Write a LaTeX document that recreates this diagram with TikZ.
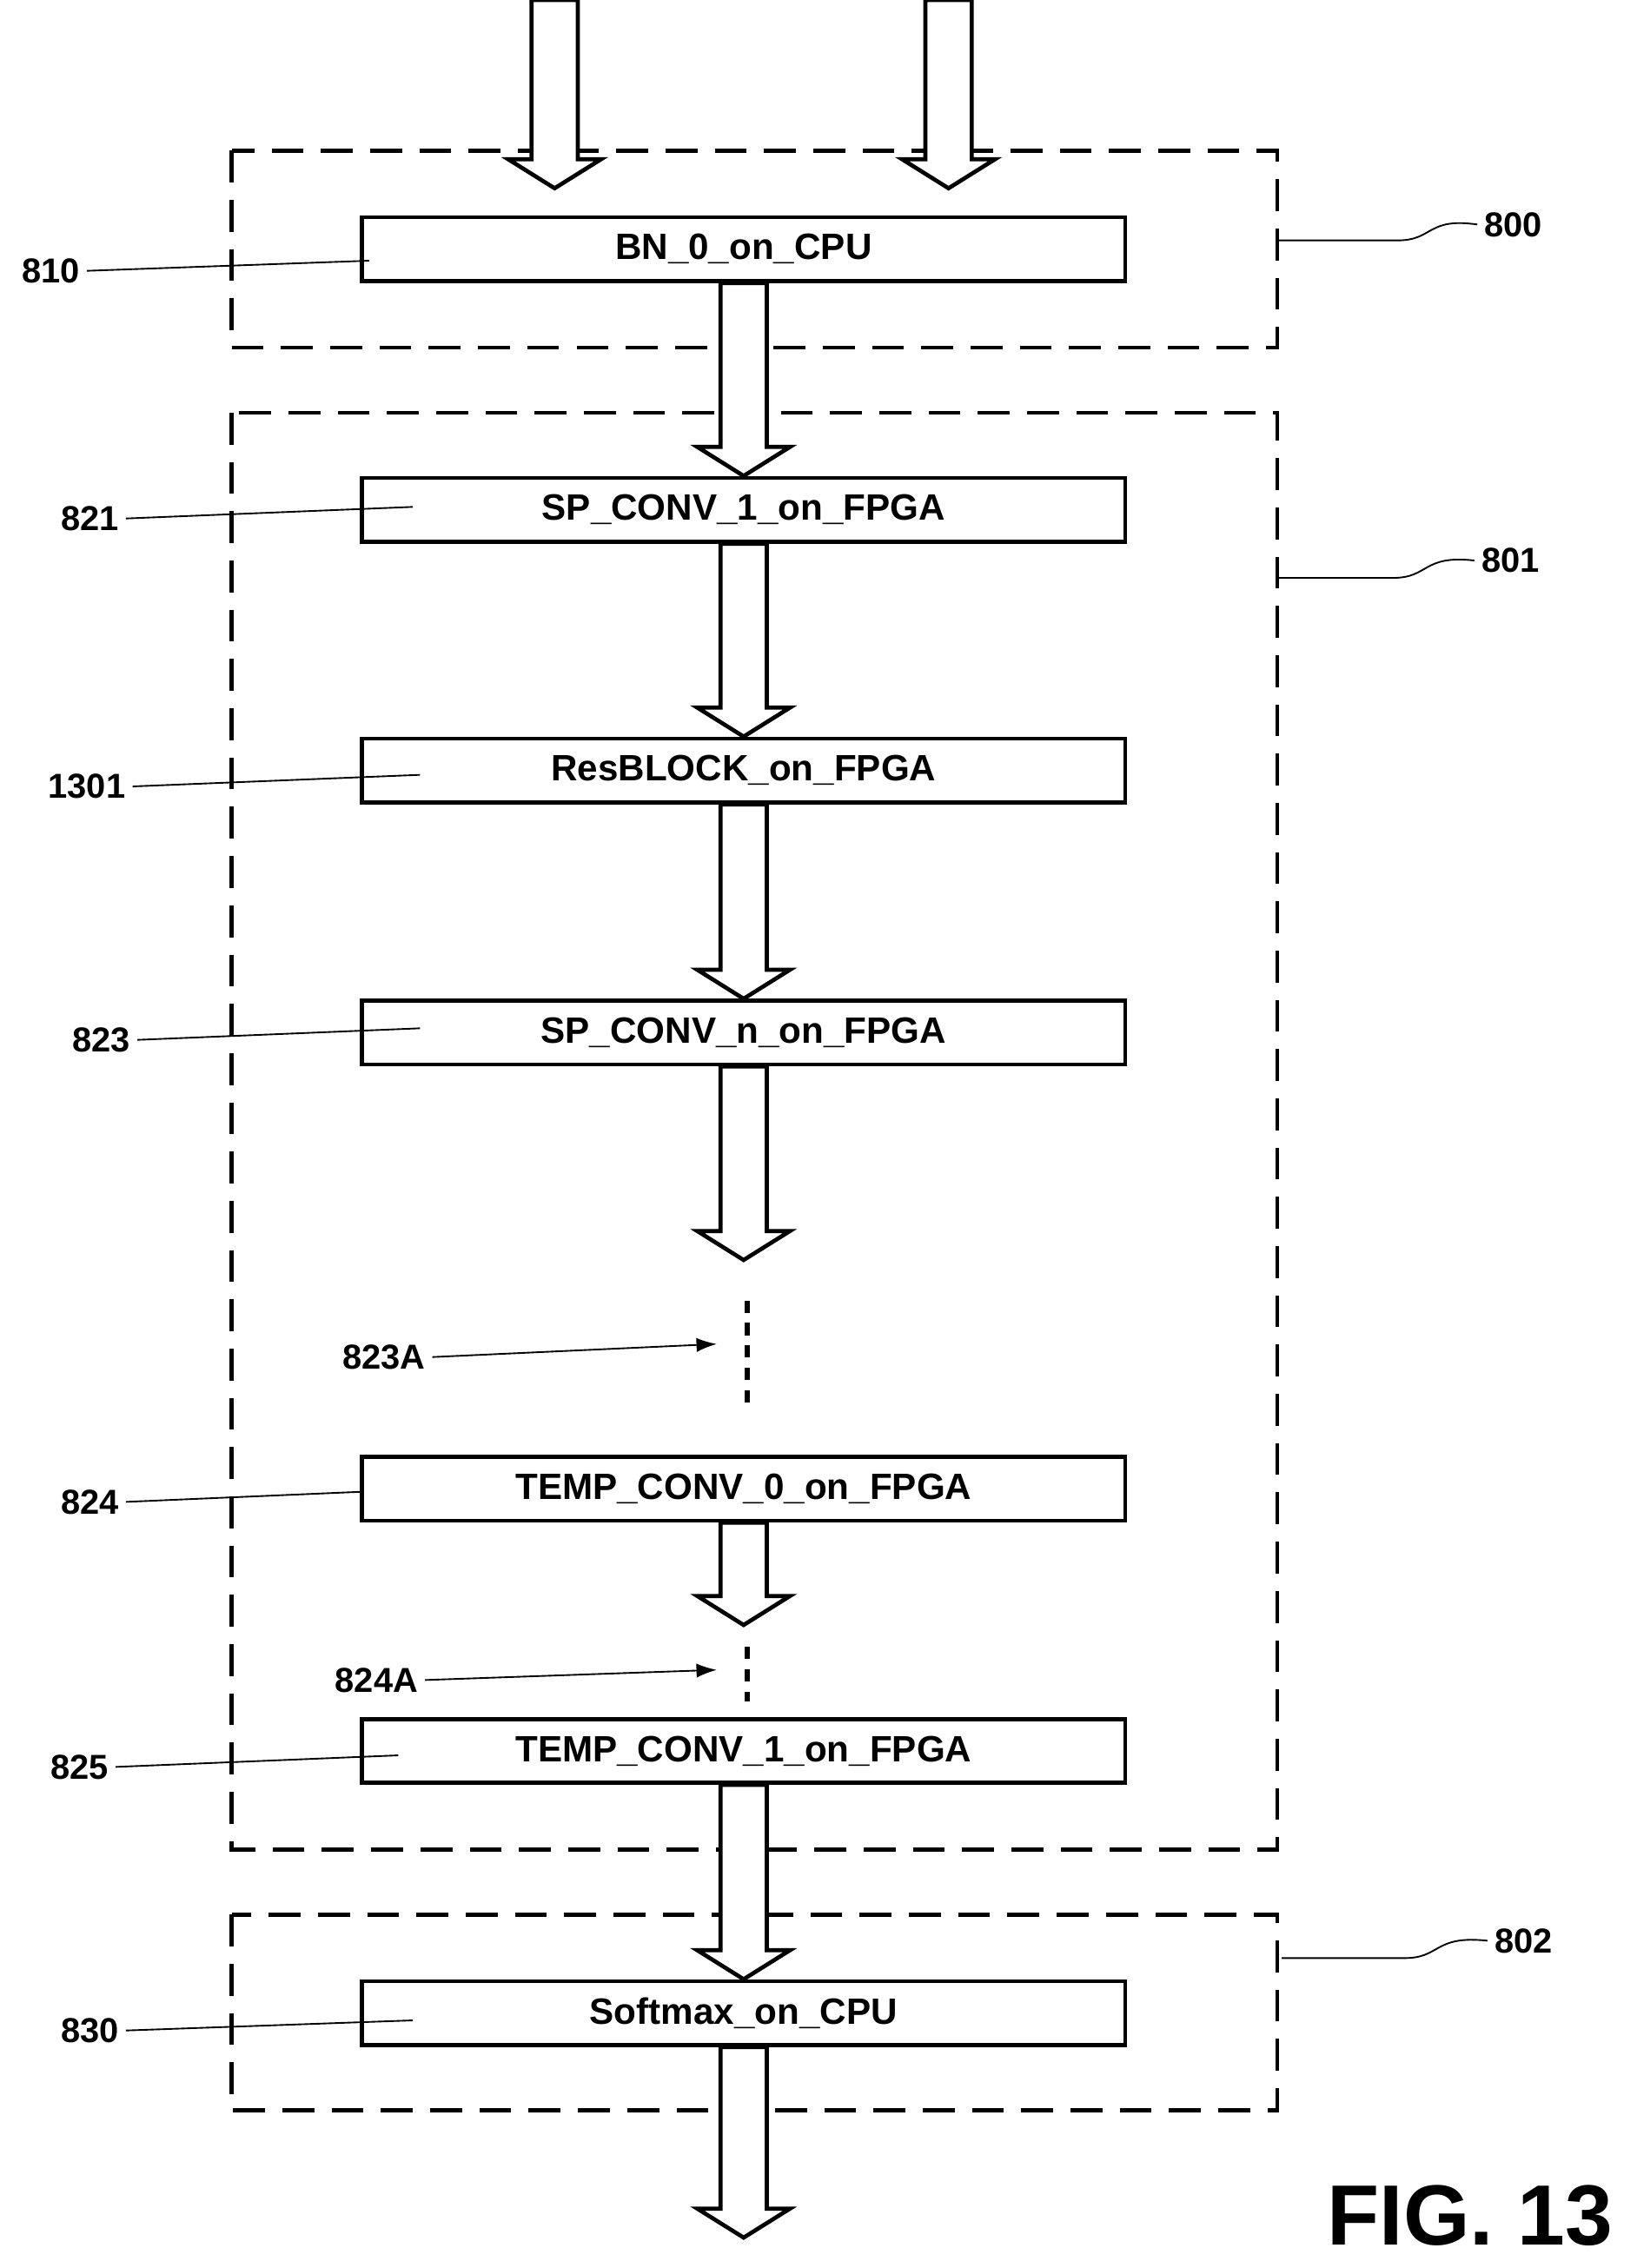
\documentclass[tikz,border=0pt]{standalone}
\usepackage{fontspec}
\setmainfont{Liberation Sans}
\usepackage{tikz}
\usetikzlibrary{positioning,calc,arrows.meta}
\tikzset{
  blk/.style={draw=black, line width=2pt, minimum width=13.175cm, minimum height=1.1cm,
    inner sep=0pt, font=\bfseries\fontsize{18}{20}\selectfont},
  grp/.style={draw=black, line width=2pt, dash pattern=on 0.55cm off 0.3cm},
  num/.style={font=\bfseries\fontsize{17}{20}\selectfont},
  lead/.style={line width=0.8pt},
  fat/.style={draw=black, line width=2pt, fill=white}
}
\newcommand{\fatarrow}[2]{%
  \path[fat] let \p1=(#1), \p2=(#2) in
    (\x1-0.4cm,\y1) -- (\x1-0.4cm,\y2+0.5cm) -- (\x1-0.8cm,\y2+0.5cm) -- (\x1,\y2)
    -- (\x1+0.8cm,\y2+0.5cm) -- (\x1+0.4cm,\y2+0.5cm) -- (\x1+0.4cm,\y1) -- cycle;}
\begin{document}
\begin{tikzpicture}[x=0.025cm,y=-0.025cm]
  \useasboundingbox (0,0) rectangle (1130,1566);
  % groups
  \draw[grp] (160,104) rectangle (882,240);
  \draw[grp] (160,285) rectangle (882,1277);
  \draw[grp] (160,1322) rectangle (882,1457);
  % blocks
  \node[blk] (bn)   at (513.5,172)  {BN\_0\_on\_CPU};
  \node[blk] (sp1)  at (513.5,352)  {SP\_CONV\_1\_on\_FPGA};
  \node[blk] (res)  at (513.5,532)  {ResBLOCK\_on\_FPGA};
  \node[blk] (spn)  at (513.5,713)  {SP\_CONV\_n\_on\_FPGA};
  \node[blk] (tc0)  at (513.5,1028) {TEMP\_CONV\_0\_on\_FPGA};
  \node[blk] (tc1)  at (513.5,1209) {TEMP\_CONV\_1\_on\_FPGA};
  \node[blk] (smax) at (513.5,1390) {Softmax\_on\_CPU};
  % free ends
  \coordinate (inA) at (383,0);   \coordinate (inAe) at (383,130);
  \coordinate (inB) at (655,0);   \coordinate (inBe) at (655,130);
  \coordinate (gapA) at (514,870);
  \coordinate (gapB) at (514,1122);
  \coordinate (out) at (514,1545);
  % block arrows
  \fatarrow{inA}{inAe}
  \fatarrow{inB}{inBe}
  \fatarrow{bn.south}{sp1.north}
  \fatarrow{sp1.south}{res.north}
  \fatarrow{res.south}{spn.north}
  \fatarrow{spn.south}{gapA}
  \fatarrow{tc0.south}{gapB}
  \fatarrow{tc1.south}{smax.north}
  \fatarrow{smax.south}{out}
  % dots
  \coordinate (dA1) at (516,898);  \coordinate (dA2) at (516,975);
  \coordinate (dB1) at (516,1137); \coordinate (dB2) at (516,1175);
  \draw[line width=2.2pt, dash pattern=on 6pt off 5pt] (dA1) -- (dA2);
  \draw[line width=2.2pt, dash pattern=on 6pt off 5pt] (dB1) -- (dB2);
  % reference numerals
  \node[num] (n810)  at (35,187)   {810};
  \node[num] (n821)  at (62,358)   {821};
  \node[num] (n1301) at (60,543)   {1301};
  \node[num] (n823)  at (70,718)   {823};
  \node[num] (n823A) at (265,937)  {823A};
  \node[num] (n824)  at (62,1037)  {824};
  \node[num] (n824A) at (260,1160) {824A};
  \node[num] (n825)  at (55,1220)  {825};
  \node[num] (n830)  at (62,1402)  {830};
  \node[num] (n800)  at (1045,155) {800};
  \node[num] (n801)  at (1043,387) {801};
  \node[num] (n802)  at (1052,1340){802};
  \draw[lead] (n810.east)  -- (255,180);
  \draw[lead] (n821.east)  -- (285,350);
  \draw[lead] (n1301.east) -- (290,535);
  \draw[lead] (n823.east)  -- (290,710);
  \draw[lead] (n824.east)  -- (250,1030);
  \draw[lead] (n825.east)  -- (275,1212);
  \draw[lead] (n830.east)  -- (285,1395);
  \draw[lead,-{Latex[length=10pt,width=7pt]}] (n823A.east) -- (495,928);
  \draw[lead,-{Latex[length=10pt,width=7pt]}] (n824A.east) -- (495,1153);
  \draw[lead] (882,166) -- (965,166) .. controls (990,166) and (985,150) .. (n800.west);
  \draw[lead] (882,399) -- (962,399) .. controls (987,399) and (982,383) .. (n801.west);
  \draw[lead] (885,1352) -- (970,1352) .. controls (995,1352) and (990,1336) .. (n802.west);
  % figure caption
  \node[font=\bfseries\fontsize{42}{46}\selectfont] (fig) at (1015,1530) {FIG. 13};
\end{tikzpicture}
\end{document}
